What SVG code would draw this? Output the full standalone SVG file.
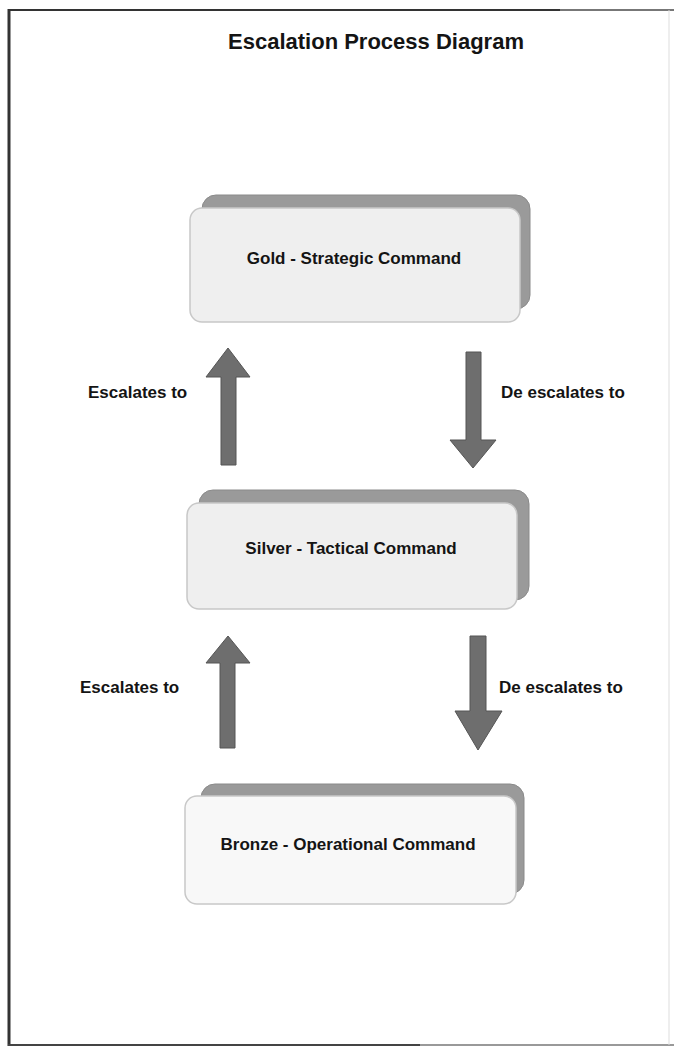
<svg xmlns="http://www.w3.org/2000/svg" width="674" height="1052" viewBox="0 0 674 1052">
  <style>
    .title { font-family: "Liberation Sans", Arial, sans-serif; font-weight: bold; font-size: 22px; fill: #141414; }
    .label { font-family: "Liberation Sans", Arial, sans-serif; font-weight: bold; font-size: 17px; fill: #141414; }
    .node-text { font-family: "Liberation Sans", Arial, sans-serif; font-weight: bold; font-size: 17px; fill: #141414; text-anchor: middle; }
    .back { fill: #9a9a9a; stroke: #8a8a8a; stroke-width: 1; }
    .front { fill: #efefef; stroke: #c8c8c8; stroke-width: 1.5; }
    .front-light { fill: #f8f8f8; stroke: #c8c8c8; stroke-width: 1.5; }
    .arrow { fill: #6e6e6e; stroke: #555555; stroke-width: 1; }
  </style>

  <!-- page -->
  <rect x="0" y="0" width="674" height="1052" fill="#ffffff"/>
  <g id="frame" fill="none">
    <line x1="9" y1="9" x2="9" y2="1046" stroke="#333333" stroke-width="3"/>
    <line x1="8" y1="10" x2="560" y2="10" stroke="#333333" stroke-width="2"/>
    <line x1="560" y1="10" x2="674" y2="10" stroke="#777777" stroke-width="2"/>
    <line x1="8" y1="1045" x2="420" y2="1045" stroke="#444444" stroke-width="2"/>
    <line x1="420" y1="1045" x2="674" y2="1045" stroke="#999999" stroke-width="2"/>
    <line x1="669" y1="10" x2="669" y2="1045" stroke="#dddddd" stroke-width="1"/>
  </g>

  <text class="title" x="376" y="49" text-anchor="middle">Escalation Process Diagram</text>

  <!-- nodes -->
  <g id="gold">
    <rect class="back" x="202" y="195" width="328" height="114" rx="14"/>
    <rect class="front" x="190" y="208" width="330" height="114" rx="12"/>
    <text class="node-text" x="354" y="264">Gold - Strategic Command</text>
  </g>

  <g id="silver">
    <rect class="back" x="199" y="490" width="330" height="110" rx="14"/>
    <rect class="front" x="187" y="503" width="330" height="106" rx="12"/>
    <text class="node-text" x="351" y="554">Silver - Tactical Command</text>
  </g>

  <g id="bronze">
    <rect class="back" x="201" y="784" width="323" height="110" rx="14"/>
    <rect class="front-light" x="185" y="796" width="331" height="108" rx="12"/>
    <text class="node-text" x="348" y="850">Bronze - Operational Command</text>
  </g>

  <!-- connectors -->
  <g id="connectors">
    <polygon class="arrow" points="228,348 250,377 236,377 236,465 221,465 221,377 206,377"/>
    <polygon class="arrow" points="466,352 481,352 481,440 496,440 473,468 450,440 466,440"/>
    <polygon class="arrow" points="228,636 250,663 235,663 235,748 220,748 220,663 206,663"/>
    <polygon class="arrow" points="470,636 486,636 486,711 502,711 478,750 455,711 470,711"/>
  </g>

  <!-- connector labels -->
  <g id="labels">
    <text class="label" x="88" y="398">Escalates to</text>
    <text class="label" x="501" y="398">De escalates to</text>
    <text class="label" x="80" y="693">Escalates to</text>
    <text class="label" x="499" y="693">De escalates to</text>
  </g>
</svg>
